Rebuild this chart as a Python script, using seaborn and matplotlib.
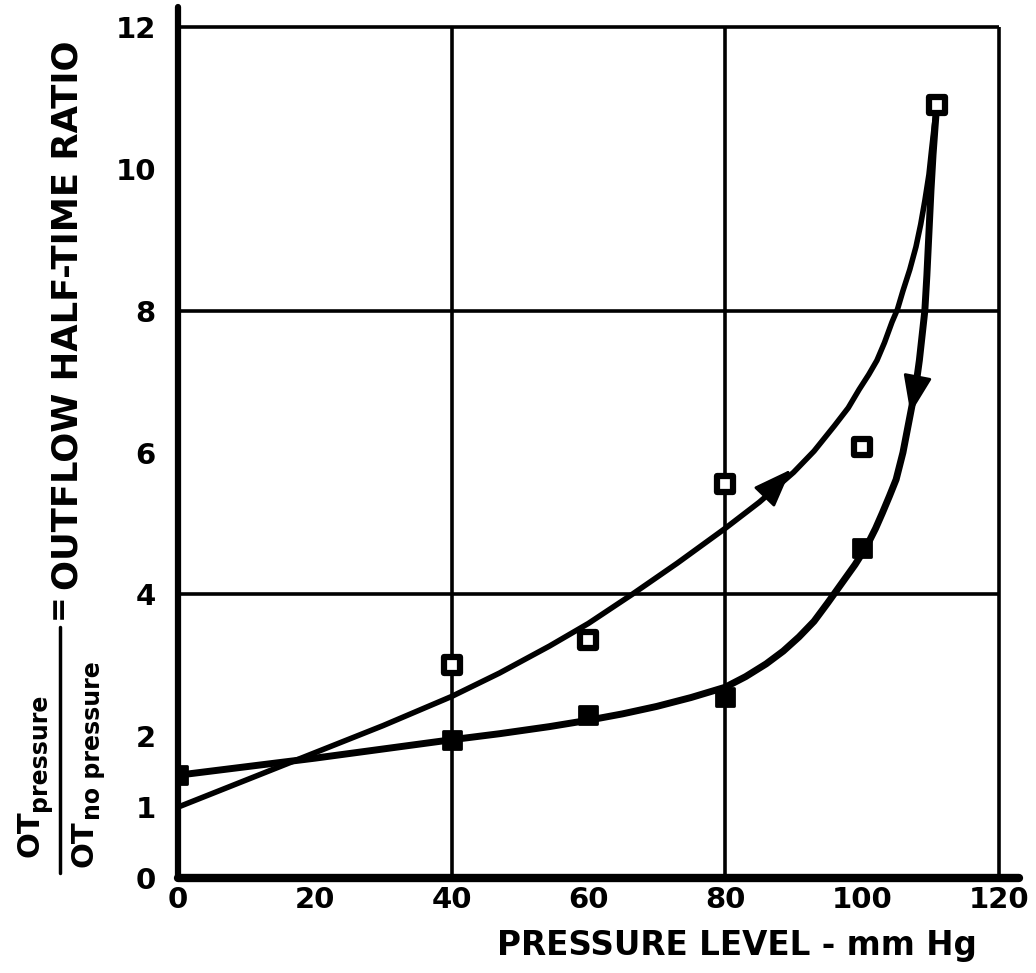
import matplotlib
matplotlib.use('Agg')
import matplotlib.pyplot as plt
from matplotlib.lines import Line2D
import pandas as pd
import seaborn as sns

# measured points (squares)
up_x = [40, 60, 80, 100, 111]
up_y = [3.0, 3.35, 5.55, 6.08, 10.9]
low_x = [0, 40, 60, 80, 100]
low_y = [1.45, 1.95, 2.3, 2.55, 4.65]

# hand drawn curves
up_curve_x = [0, 18, 30, 40, 47, 54.3, 60, 66.4, 73, 80, 85, 90, 93, 96, 98, 99.6, 101, 102.2, 103.3,
              104.4, 105.2, 106, 107, 107.9, 108.6, 109.2, 109.8, 110.2, 110.6, 110.9]
up_curve_y = [1.0, 1.69, 2.15, 2.56, 2.89, 3.27, 3.59, 4.0, 4.44, 4.93, 5.3, 5.72, 6.02, 6.38, 6.63, 6.89, 7.1, 7.3, 7.55,
              7.84, 8.02, 8.28, 8.58, 8.9, 9.22, 9.55, 9.92, 10.28, 10.62, 10.85]
low_curve_x = [0, 10, 20, 30, 40, 47, 54.3, 60, 65, 70, 75, 80, 83, 86, 88.5, 90.8, 93, 95, 97, 99, 100.7,
               102, 103, 104, 105, 106, 106.7, 107.3, 107.9, 108.4, 108.8, 109.2, 109.5, 109.8, 110.1, 110.4, 110.7, 110.9]
low_curve_y = [1.45, 1.57, 1.69, 1.82, 1.95, 2.035, 2.135, 2.225, 2.315, 2.42, 2.545, 2.69, 2.84, 3.02, 3.2, 3.4, 3.62, 3.88,
               4.15, 4.42, 4.68, 4.93, 5.15, 5.38, 5.62, 6.0, 6.35, 6.65, 6.95, 7.3, 7.65, 8.0, 8.5, 9.1, 9.7, 10.2, 10.6, 10.85]

# direction arrows (tail -> tip)
arrow_tail = [(85, 5.3), (107.9, 6.95)]
arrow_tip = [(89.6, 5.76), (107.1, 6.55)]

x_ticks = [0, 20, 40, 60, 80, 100, 120]
y_ticks = [0, 1, 2, 4, 6, 8, 10, 12]
grid_x = [40, 80, 120]
grid_y = [4, 8, 12]

sns.set_style('white')
plt.rcParams['font.family'] = ['DejaVu Sans']
plt.rcParams['font.weight'] = 'bold'
for k in ['text.color', 'axes.labelcolor', 'xtick.color', 'ytick.color', 'axes.edgecolor']:
    plt.rcParams[k] = 'black'

W, H = 1036, 973
fig = plt.figure(figsize=(W / 100, H / 100), dpi=100)
ax = fig.add_axes([0.1718, 0.0976, 0.812, 0.895])


def px(x, y):
    return x / W, 1 - y / H


# grid
ax.vlines(grid_x, 0, 12, color='black', lw=2.6, zorder=1)
ax.hlines(grid_y, 0, 120, color='black', lw=2.6, zorder=1)

up_df = pd.DataFrame({'x': up_curve_x, 'y': up_curve_y})
low_df = pd.DataFrame({'x': low_curve_x, 'y': low_curve_y})
sns.lineplot(data=up_df, x='x', y='y', sort=False, color='black', lw=4.0, ax=ax, zorder=3,
             solid_joinstyle='round', solid_capstyle='round')
sns.lineplot(data=low_df, x='x', y='y', sort=False, color='black', lw=5.0, ax=ax, zorder=3,
             solid_joinstyle='round', solid_capstyle='round')

for t, h in zip(arrow_tail, arrow_tip):
    ax.annotate('', xy=h, xytext=t,
                arrowprops=dict(arrowstyle='-|>,head_length=1.2,head_width=0.45', color='black',
                                lw=2, mutation_scale=20, shrinkA=0, shrinkB=0), zorder=4)

sns.scatterplot(x=up_x, y=up_y, marker='s', s=120, color='white', edgecolor='black',
                linewidth=4.5, ax=ax, zorder=5)
sns.scatterplot(x=low_x, y=low_y, marker='s', s=160, color='black', edgecolor='black',
                linewidth=2, ax=ax, zorder=5)

ax.set_xlim(0, 123)
ax.set_ylim(0, 12.28)
ax.set_xticks(x_ticks)
ax.set_yticks(y_ticks)
ax.set_xlabel('')
ax.set_ylabel('')
ax.tick_params(direction='in', length=7, width=2.5, labelsize=21, color='black', labelcolor='black')
ax.tick_params(axis='x', pad=6)
ax.tick_params(axis='y', pad=16)
for s in ['top', 'right']:
    ax.spines[s].set_visible(False)
ax.spines['left'].set_linewidth(4.5)
ax.spines['bottom'].set_linewidth(6)
for s in ['left', 'bottom']:
    ax.spines[s].set_color('black')
    ax.spines[s].set_capstyle('round')

# axis titles
fig.text(*px(737, 946), 'PRESSURE LEVEL - mm Hg', ha='center', va='center', fontsize=23.5)
fig.text(*px(77, 590), 'OUTFLOW HALF-TIME RATIO', rotation=90, rotation_mode='anchor',
         ha='left', va='baseline', fontsize=25.5)
fig.text(*px(66, 606), '=', rotation=90, rotation_mode='anchor', ha='center', va='baseline', fontsize=22)
fig.text(*px(38, 857), 'OT', rotation=90, rotation_mode='anchor', ha='left', va='baseline', fontsize=22)
fig.text(*px(46, 811), 'pressure', rotation=90, rotation_mode='anchor', ha='left', va='baseline', fontsize=17)
fig.text(*px(92, 867), 'OT', rotation=90, rotation_mode='anchor', ha='left', va='baseline', fontsize=22)
fig.text(*px(100, 820), 'no pressure', rotation=90, rotation_mode='anchor', ha='left', va='baseline', fontsize=17)
fig.add_artist(Line2D([60 / W, 60 / W], [1 - 873 / H, 1 - 627 / H], color='black', lw=2.5))

fig.savefig('out.png', dpi=100)
